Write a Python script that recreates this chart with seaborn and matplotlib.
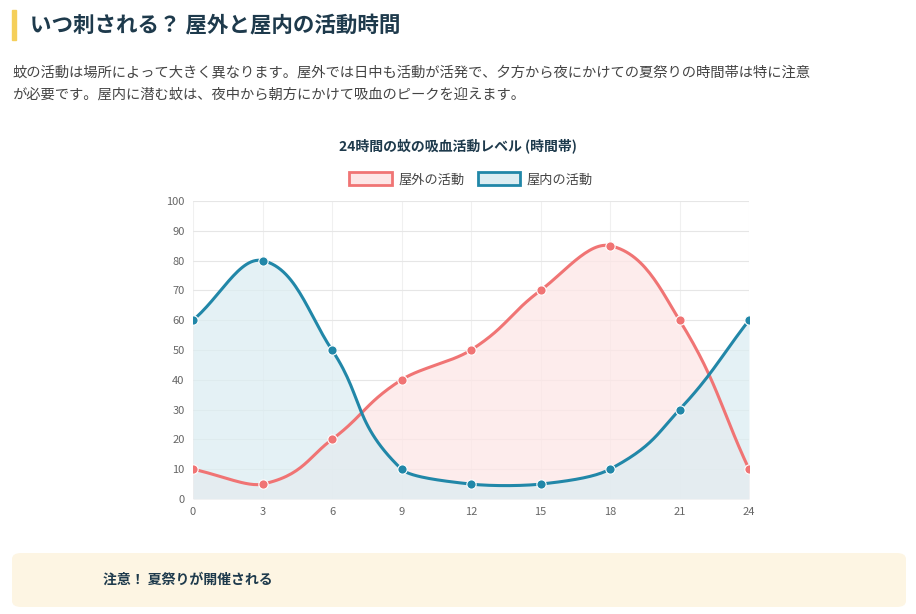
import numpy as np
import seaborn as sns
import matplotlib.pyplot as plt
from matplotlib.patches import Patch, FancyBboxPatch, Rectangle

hours = [0, 3, 6, 9, 12, 15, 18, 21, 24]
outdoor = [10, 5, 20, 40, 50, 70, 85, 60, 10]
indoor = [60, 80, 50, 10, 5, 5, 10, 30, 60]
series_names = ["屋外の活動", "屋内の活動"]
line_colors = ["#f07474", "#2187a8"]
fill_colors = ["#fde6e6", "#dcedf2"]


def smooth(xs, ys, t=0.4, n=30):
    # Chart.js style bezier spline with tension t
    xs = np.asarray(xs, float)
    ys = np.asarray(ys, float)
    cps = []
    for i in range(len(xs)):
        p0 = (xs[max(i - 1, 0)], ys[max(i - 1, 0)])
        p1 = (xs[i], ys[i])
        p2 = (xs[min(i + 1, len(xs) - 1)], ys[min(i + 1, len(xs) - 1)])
        d01 = np.hypot(p1[0] - p0[0], p1[1] - p0[1])
        d12 = np.hypot(p2[0] - p1[0], p2[1] - p1[1])
        s = d01 + d12
        fa = t * d01 / s if s else 0
        fb = t * d12 / s if s else 0
        prev = (p1[0] - fa * (p2[0] - p0[0]), p1[1] - fa * (p2[1] - p0[1]))
        nxt = (p1[0] + fb * (p2[0] - p0[0]), p1[1] + fb * (p2[1] - p0[1]))
        cps.append((prev, nxt))
    ox, oy = [], []
    u = np.linspace(0, 1, n)
    for i in range(len(xs) - 1):
        P0 = np.array([xs[i], ys[i]])
        P1 = np.array(cps[i][1])
        P2 = np.array(cps[i + 1][0])
        P3 = np.array([xs[i + 1], ys[i + 1]])
        pts = ((1 - u) ** 3)[:, None] * P0 + (3 * (1 - u) ** 2 * u)[:, None] * P1 \
            + (3 * (1 - u) * u ** 2)[:, None] * P2 + (u ** 3)[:, None] * P3
        ox.extend(pts[:, 0])
        oy.extend(pts[:, 1])
    return np.array(ox), np.clip(np.array(oy), 0, 100)


sns.set_style("white")
plt.rcParams["font.family"] = ["Noto Sans CJK JP", "DejaVu Sans"]

fig = plt.figure(figsize=(9.16, 6.14), dpi=100)
ax = fig.add_axes([0.2107, 0.1873, 0.607, 0.4853])

for ys, name, lc, fc in zip([outdoor, indoor], series_names, line_colors, fill_colors):
    sx, sy = smooth(hours, ys)
    ax.fill_between(sx, 0, sy, color=fc, alpha=0.75, lw=0, zorder=1)
    sns.lineplot(x=sx, y=sy, color=lc, lw=2.2, ax=ax, zorder=3, sort=False)
    sns.scatterplot(x=hours, y=ys, color=lc, s=45, edgecolor="white", linewidth=0.8, ax=ax, zorder=4)

ax.set_xlim(0, 24)
ax.set_ylim(0, 100)
ax.set_xticks(hours)
ax.set_yticks(range(0, 101, 10))
ax.grid(True, axis="y", color="#e6e6e6", lw=0.8)
ax.grid(True, axis="x", color="#f0f0f0", lw=0.8)
ax.set_axisbelow(True)
for s in ax.spines.values():
    s.set_visible(False)
ax.tick_params(labelsize=8, colors="#666666", length=0, pad=6)

handles = [Patch(facecolor=f, edgecolor=l, lw=2) for f, l in zip(fill_colors, line_colors)]
ax.legend(handles, series_names, loc="lower center", bbox_to_anchor=(0.5, 1.01), ncol=2,
          frameon=False, fontsize=9.5, labelcolor="#444444", handlelength=3.2, handleheight=1.1,
          columnspacing=1.0, handletextpad=0.5)

fig.text(0.5, 1 - 146 / 614, "24時間の蚊の吸血活動レベル (時間帯)", ha="center", va="center",
         fontsize=10, fontweight="bold", color="#1e3a4c")

fig.patches.append(Rectangle((12 / 916, 1 - 40 / 614), 4 / 916, 30 / 614,
                             transform=fig.transFigure, color="#f5cf5a"))
fig.text(30 / 916, 1 - 25 / 614, "いつ刺される？ 屋外と屋内の活動時間", ha="left", va="center",
         fontsize=15.5, fontweight="bold", color="#1e3a4c")
fig.text(12 / 916, 1 - 72 / 614,
         "蚊の活動は場所によって大きく異なります。屋外では日中も活動が活発で、夕方から夜にかけての夏祭りの時間帯は特に注意",
         ha="left", va="center", fontsize=10.3, color="#444444")
fig.text(12 / 916, 1 - 95 / 614, "が必要です。屋内に潜む蚊は、夜中から朝方にかけて吸血のピークを迎えます。",
         ha="left", va="center", fontsize=10.3, color="#444444")

fig.patches.append(FancyBboxPatch((12 / 916, 1 - 607 / 614), 894 / 916, 54 / 614,
                                  boxstyle="round,pad=0,rounding_size=0.01",
                                  transform=fig.transFigure, facecolor="#fdf5e3", edgecolor="none"))
parts = [("注意！ 夏祭りが開催される ", "#1e3a4c"), ("夕方〜夜", "#f07474"),
         (" は、屋外での蚊の活動が最も活発になる時間帯と重なります。", "#1e3a4c")]
last = fig.text(103 / 916, 1 - 580 / 614, parts[0][0], ha="left", va="center",
                fontsize=10, fontweight="bold", color=parts[0][1])
for txt, c in parts[1:]:
    last = ax.annotate(txt, xy=(1, 0.5), xycoords=last, va="center", ha="left",
                       fontsize=10, fontweight="bold", color=c, annotation_clip=False)

fig.savefig("out.png", dpi=100)
